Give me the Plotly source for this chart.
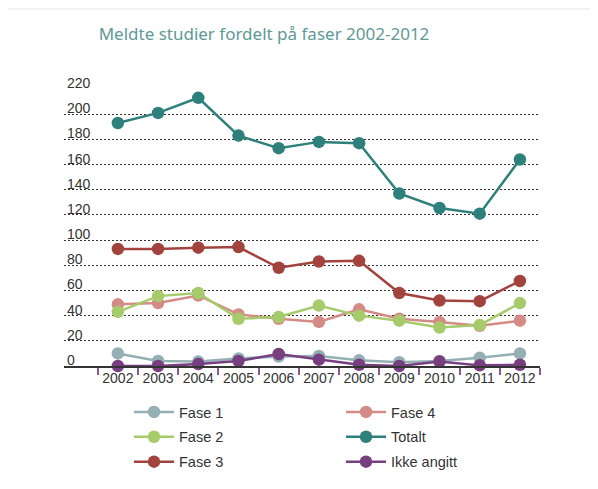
import plotly.graph_objects as go

years = list(range(2002, 2013))
fase1 = [10, 4, 3.5, 6, 7.5, 8, 4.5, 3, 4, 6.5, 10]
fase2 = [43, 55.5, 58, 37.5, 39, 48, 40, 36, 30.5, 32.5, 50]
fase3 = [93, 93, 94, 94.5, 78, 83, 83.5, 58, 52, 51.5, 67.5]
fase4 = [49, 50, 56, 41, 37.5, 35, 45, 37.5, 35, 32, 36]
totalt = [193, 201, 213, 183, 173, 178, 177, 137, 125.5, 121, 164]
ikke = [0, 0, 1.5, 4, 9.5, 5, 1, 0, 3.5, 0.5, 1]
y_ticks = list(range(0, 221, 20))

series = [
    # name, values, color, legend, rank
    ("Totalt", totalt, "#2e807c", "legend2", 2),
    ("Fase 3", fase3, "#a2433d", "legend", 3),
    ("Fase 4", fase4, "#d48b86", "legend2", 1),
    ("Fase 2", fase2, "#a6cb6b", "legend", 2),
    ("Fase 1", fase1, "#94b0b5", "legend", 1),
    ("Ikke angitt", ikke, "#773f80", "legend2", 3),
]

fig = go.Figure()
for name, vals, col, leg, rank in series:
    fig.add_trace(go.Scatter(
        x=years, y=vals, name=name, mode="lines+markers",
        line=dict(color=col, width=2.5),
        marker=dict(color=col, size=12.5),
        legend=leg, legendgroup=name, legendrank=rank,
        cliponaxis=False,
    ))

annotations = []
for v in y_ticks:
    annotations.append(dict(
        x=0, xref="paper", y=v, yref="y", text=str(v), showarrow=False,
        xanchor="left", yanchor="bottom", xshift=1, yshift=-4,
        font=dict(family="Liberation Sans, Arial", size=14, color="#333333"),
    ))

# page body has an 8px margin: figure coordinates = screen coordinates - 8
OFF = 8
W, H = 598 - OFF, 489 - OFF
L, T = 64 - OFF, 89 - OFF
R = W - (540 - OFF)
B = H - (366 - OFF)
pw, ph = W - L - R, H - T - B

legend_font = dict(family="Liberation Sans, Arial", size=14.5, color="#333333")

fig.update_layout(
    width=W, height=H,
    margin=dict(l=L, r=R, t=T, b=B, autoexpand=False),
    paper_bgcolor="#f2f2f2", plot_bgcolor="white",
    title=dict(text="Meldte studier fordelt på faser 2002-2012",
               x=(264 - OFF) / W, xanchor="center", y=1 - (34 - OFF) / H, yanchor="middle",
               xref="container", yref="container",
               font=dict(family="Noto Sans", size=17, color="#5e9995")),
    shapes=[dict(type="rect", xref="paper", yref="paper",
                 x0=(6 - 64) / pw, x1=1.3, y0=-0.6, y1=(366 - 10) / ph,
                 fillcolor="white", line=dict(width=0), layer="below")],
    annotations=annotations,
    showlegend=True,
    legend=dict(x=(129 - OFF) / W, y=1 - (396 - OFF) / H, xref="container", yref="container",
                xanchor="left", yanchor="top", orientation="v",
                tracegroupgap=3, itemwidth=40, bgcolor="rgba(0,0,0,0)", font=legend_font),
    legend2=dict(x=(341 - OFF) / W, y=1 - (396 - OFF) / H, xref="container", yref="container",
                 xanchor="left", yanchor="top", orientation="v",
                 tracegroupgap=3, itemwidth=40, bgcolor="rgba(0,0,0,0)", font=legend_font),
    xaxis=dict(range=[2000.66, 2012.5], tickvals=years, ticktext=[str(y) for y in years],
               ticks="", ticklen=0, ticklabelstandoff=-2, showgrid=False, zeroline=False,
               showline=True, linecolor="#333333", linewidth=2,
               tickfont=dict(family="Liberation Sans, Arial", size=14, color="#333333"),
               minor=dict(tickvals=[y - 0.5 for y in years] + [2012.5], ticks="outside",
                          ticklen=7, tickwidth=1.5, tickcolor="#8a5a8e", showgrid=False)),
    yaxis=dict(range=[0, 220], tickvals=y_ticks, showticklabels=False,
               showgrid=True, gridcolor="#333333", gridwidth=1, griddash="2px,2px",
               zeroline=False, ticks=""),
)

fig.write_html("out.html")
